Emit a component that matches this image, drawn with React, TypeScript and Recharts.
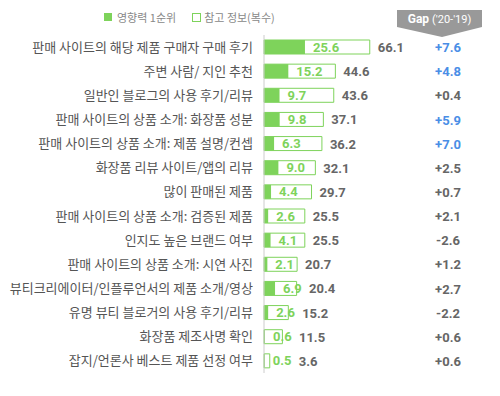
import React from 'react';
import { ComposedChart, Bar, XAxis, YAxis, LabelList } from 'recharts';

const categories = [
  '판매 사이트의 해당 제품 구매자 구매 후기',
  '주변 사람/ 지인 추천',
  '일반인 블로그의 사용 후기/리뷰',
  '판매 사이트의 상품 소개: 화장품 성분',
  '판매 사이트의 상품 소개: 제품 설명/컨셉',
  '화장품 리뷰 사이트/앱의 리뷰',
  '많이 판매된 제품',
  '판매 사이트의 상품 소개: 검증된 제품',
  '인지도 높은 브랜드 여부',
  '판매 사이트의 상품 소개: 시연 사진',
  '뷰티크리에이터/인플루언서의 제품 소개/영상',
  '유명 뷰티 블로거의 사용 후기/리뷰',
  '화장품 제조사명 확인',
  '잡지/언론사 베스트 제품 선정 여부',
];
const firstRank = [25.6, 15.2, 9.7, 9.8, 6.3, 9.0, 4.4, 2.6, 4.1, 2.1, 6.9, 2.6, 0.6, 0.5];
const reference = [66.1, 44.6, 43.6, 37.1, 36.2, 32.1, 29.7, 25.5, 25.5, 20.7, 20.4, 15.2, 11.5, 3.6];
const gap = ['+7.6', '+4.8', '+0.4', '+5.9', '+7.0', '+2.5', '+0.7', '+2.1', '-2.6', '+1.2', '+2.7', '-2.2', '+0.6', '+0.6'];

const seriesNames = ['영향력 1순위', '참고 정보(복수)'];

const data = categories.map((name, i) => ({
  name,
  first: firstRank[i],
  total: reference[i],
  gap: gap[i],
}));

const GREEN = '#7ed35b';
const BLUE = '#4a8ee6';
const GRAY_TEXT = '#666';
const FONT = "'Noto Sans CJK KR', 'Noto Sans', sans-serif";
const NUM_FONT = "Roboto, 'Noto Sans', sans-serif";

const NameTick = (props: any) => {
  const { x, y, payload } = props;
  return (
    <text x={x} y={y} dy={4.5} textAnchor="end" fill="#555" fontFamily={FONT} fontSize={13}>
      {payload.value}
    </text>
  );
};

const GapTick = (props: any) => {
  const { x, y, payload } = props;
  const idx = categories.indexOf(payload.value);
  const g = gap[idx];
  const v = parseFloat(g);
  return (
    <text
      x={x + 16}
      y={y}
      dy={5}
      textAnchor="middle"
      fill={v > 3 ? BLUE : GRAY_TEXT}
      fontFamily={NUM_FONT}
      fontWeight={700}
      fontSize={13}
    >
      {g}
    </text>
  );
};

const TotalLabel = (props: any) => {
  const { x, y, width, height, index } = props;
  const total = reference[index];
  const first = firstRank[index];
  const firstEnd = x + (width * first) / total;
  const lx = Math.max(x + width + 8, firstEnd + 8 + 20 + 6);
  return (
    <text
      x={lx}
      y={y + height / 2}
      dy={5}
      fill={GRAY_TEXT}
      fontFamily={NUM_FONT}
      fontWeight={700}
      fontSize={13}
    >
      {total.toFixed(1)}
    </text>
  );
};

export default function App() {
  return (
    <div style={{ position: 'absolute', left: 0, top: 0, width: 500, height: 396, background: '#fff' }}>
      <div
        style={{
          position: 'absolute',
          left: 104,
          top: 9,
          display: 'flex',
          alignItems: 'center',
          fontFamily: FONT,
          fontSize: 11,
          color: '#888',
        }}
      >
        <span style={{ width: 8, height: 8, background: GREEN, display: 'inline-block', marginRight: 5 }} />
        <span style={{ marginRight: 16 }}>{seriesNames[0]}</span>
        <span
          style={{
            width: 7,
            height: 7,
            border: `1px solid ${GREEN}`,
            display: 'inline-block',
            marginRight: 3,
          }}
        />
        <span>{seriesNames[1]}</span>
      </div>
      <svg style={{ position: 'absolute', left: 0, top: 0 }} width={500} height={45}>
        <polygon points="397,10 482,10 482,27 442,37 397,27" fill="#999" />
        <text x={439.5} y={23} textAnchor="middle" fill="#fff" fontFamily={NUM_FONT}>
          <tspan fontWeight={700} fontSize={12}>Gap </tspan>
          <tspan fontSize={11}>('20-'19)</tspan>
        </text>
      </svg>
      <ComposedChart
        width={500}
        height={396}
        data={data}
        layout="vertical"
        margin={{ top: 35, right: 0, bottom: 23, left: 0 }}
        barGap={-14}
        barSize={14}
        style={{ position: 'absolute', left: 0, top: 0 }}
      >
        <XAxis type="number" domain={[0, 100]} hide />
        <YAxis
          yAxisId="left"
          type="category"
          dataKey="name"
          width={264}
          axisLine={{ stroke: '#ccc' }}
          tickLine={false}
          tickSize={0}
          tickMargin={11}
          interval={0}
          tick={<NameTick />}
        />
        <YAxis
          yAxisId="right"
          orientation="right"
          type="category"
          dataKey="name"
          width={76}
          axisLine={false}
          tickLine={false}
          interval={0}
          tick={<GapTick />}
        />
        <Bar yAxisId="left" dataKey="total" fill="#fff" stroke={GREEN} strokeWidth={1} isAnimationActive={false}>
          <LabelList dataKey="total" content={<TotalLabel />} />
        </Bar>
        <Bar yAxisId="left" dataKey="first" fill={GREEN} isAnimationActive={false}>
          <LabelList
            dataKey="first"
            position="right"
            offset={8}
            fill={GREEN}
            fontFamily={NUM_FONT}
            fontWeight={700}
            fontSize={13}
            formatter={(v: any) => Number(v).toFixed(1)}
          />
        </Bar>
      </ComposedChart>
    </div>
  );
}
